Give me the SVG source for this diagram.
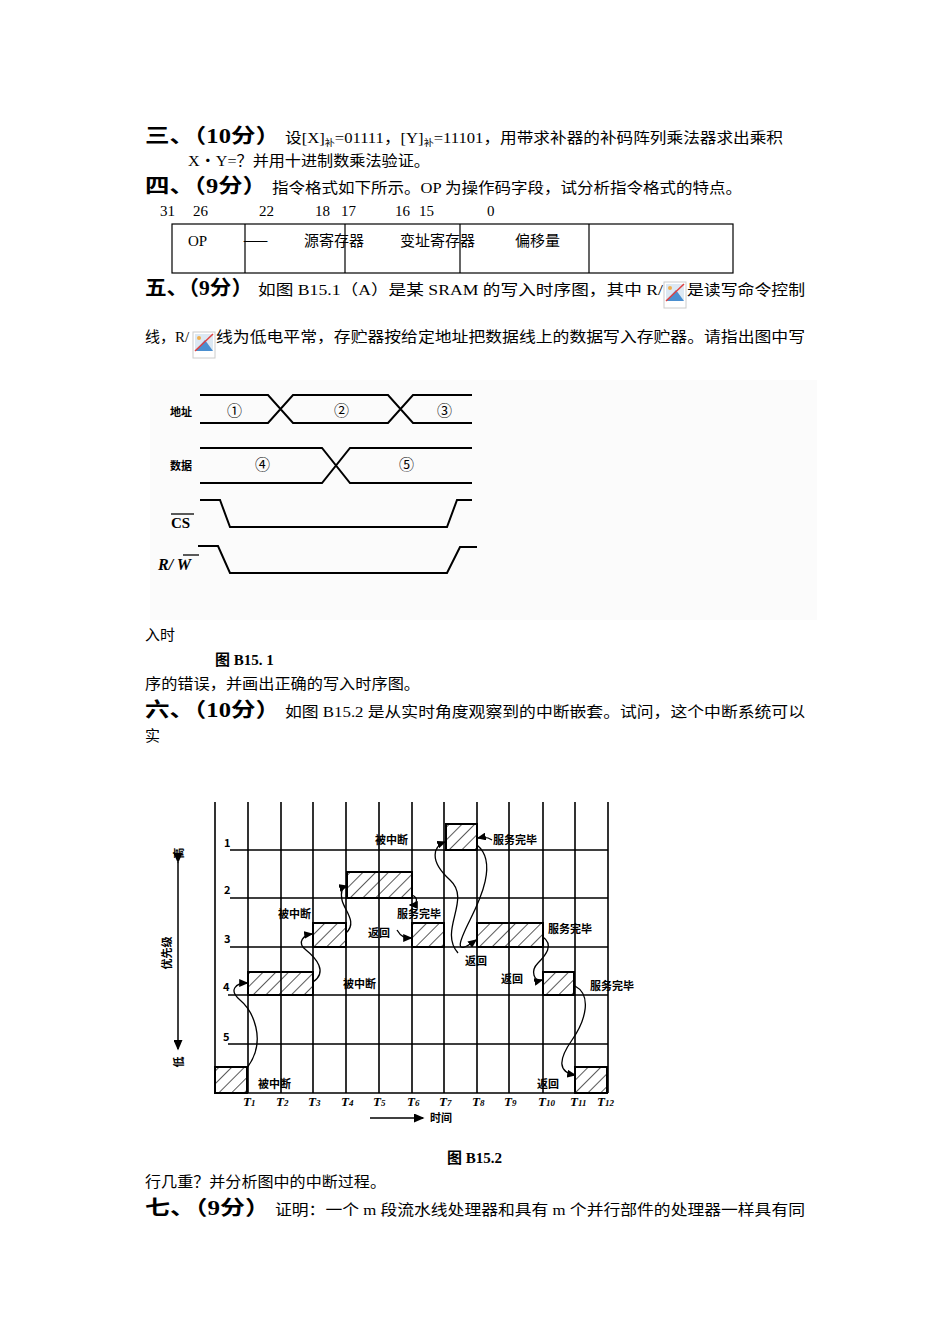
<svg xmlns="http://www.w3.org/2000/svg" width="950" height="1344" viewBox="0 0 950 1344">
<style>
.t{font-family:"Liberation Serif","Noto Sans CJK SC",serif;font-size:15px;fill:#000}
.h{font-family:"Liberation Serif","Noto Sans CJK SC",serif;font-size:20px;font-weight:bold;fill:#000}
.b{font-family:"Liberation Serif","Noto Sans CJK SC",serif;font-size:15px;font-weight:bold;fill:#000}
.s{font-family:"Noto Sans CJK SC",sans-serif;font-size:11px;font-weight:bold;fill:#000}
.tl{font-family:"Liberation Serif",serif;font-size:13px;font-weight:bold;font-style:italic;fill:#000}
.ln{stroke:#000;stroke-width:2;fill:none}
.g{stroke:#000;stroke-width:1.6;fill:none}
.c{stroke:#000;stroke-width:1.3;fill:none;marker-end:url(#ah)}
.hb{fill:url(#hatch);stroke:#000;stroke-width:2}
</style>
<defs>
<pattern id="hatch" patternUnits="userSpaceOnUse" width="9" height="9" patternTransform="rotate(45)">
<line x1="0" y1="0" x2="0" y2="9" stroke="#000" stroke-width="1.3"/>
</pattern>
<marker id="ah" markerWidth="7" markerHeight="6" refX="6" refY="3" orient="auto"><path d="M0,0 L7,3 L0,6 Z" fill="#000"/></marker>
<g id="icon"><rect x="0" y="0" width="22" height="26" fill="#fff" stroke="#ccc"/><rect x="2" y="2" width="18" height="17" fill="#dce8f3"/><path d="M2,19 L12,8 L20,19 Z" fill="#4a8fd0"/><circle cx="6" cy="6" r="2" fill="#f0b050"/><line x1="2" y1="19" x2="20" y2="2" stroke="#e04040" stroke-width="1.5"/></g>
</defs>
<rect width="950" height="1344" fill="#fff"/>

<g id="text">
<text class="h" x="145" y="143" textLength="135" lengthAdjust="spacingAndGlyphs">三、（10分）</text>
<text class="t" x="285" y="143" textLength="498" lengthAdjust="spacingAndGlyphs">设[X]<tspan font-size="9" dy="3">补</tspan><tspan dy="-3">=01111，[Y]</tspan><tspan font-size="9" dy="3">补</tspan><tspan dy="-3">=11101，用带求补器的补码阵列乘法器求出乘积</tspan></text>
<text class="t" x="188" y="166" textLength="242" lengthAdjust="spacingAndGlyphs">X・Y=？并用十进制数乘法验证。</text>
<text class="h" x="145" y="193" textLength="122" lengthAdjust="spacingAndGlyphs">四、（9分）</text>
<text class="t" x="272" y="193" textLength="470" lengthAdjust="spacingAndGlyphs">指令格式如下所示。OP 为操作码字段，试分析指令格式的特点。</text>
<text class="t" x="160" y="216">31</text><text class="t" x="193" y="216">26</text><text class="t" x="259" y="216">22</text><text class="t" x="315" y="216">18</text><text class="t" x="341" y="216">17</text><text class="t" x="395" y="216">16</text><text class="t" x="419" y="216">15</text><text class="t" x="487" y="216">0</text>
<text class="h" x="145" y="295" textLength="108" lengthAdjust="spacingAndGlyphs">五、（9分）</text>
<text class="t" x="258" y="295" textLength="405" lengthAdjust="spacingAndGlyphs">如图 B15.1（A）是某 SRAM 的写入时序图，其中 R/</text>
<use href="#icon" x="664" y="282"/>
<text class="t" x="687" y="295" textLength="118" lengthAdjust="spacingAndGlyphs">是读写命令控制</text>
<text class="t" x="145" y="342">线，R/</text>
<use href="#icon" x="193" y="332"/>
<text class="t" x="216" y="342" textLength="589" lengthAdjust="spacingAndGlyphs">线为低电平常，存贮器按给定地址把数据线上的数据写入存贮器。请指出图中写</text>
<text class="t" x="145" y="640">入时</text>
<text class="b" x="215" y="665">图 B15. 1</text>
<text class="t" x="145" y="689" textLength="275" lengthAdjust="spacingAndGlyphs">序的错误，并画出正确的写入时序图。</text>
<text class="h" x="145" y="717" textLength="135" lengthAdjust="spacingAndGlyphs">六、（10分）</text>
<text class="t" x="285" y="717" textLength="520" lengthAdjust="spacingAndGlyphs">如图 B15.2 是从实时角度观察到的中断嵌套。试问，这个中断系统可以</text>
<text class="t" x="145" y="741">实</text>
<text class="b" x="447" y="1163">图 B15.2</text>
<text class="t" x="145" y="1187" textLength="241" lengthAdjust="spacingAndGlyphs">行几重？并分析图中的中断过程。</text>
<text class="h" x="145" y="1215" textLength="125" lengthAdjust="spacingAndGlyphs">七、（9分）</text>
<text class="t" x="275" y="1215" textLength="530" lengthAdjust="spacingAndGlyphs">证明：一个 m 段流水线处理器和具有 m 个并行部件的处理器一样具有同</text>
</g>

<g id="format-table">
<rect x="172" y="224" width="561" height="49" fill="none" stroke="#000" stroke-width="1.2"/>
<path d="M245,224V273M345,224V273M460,224V273M589,224V273" stroke="#000" stroke-width="1.2"/>
<text class="t" x="188" y="246" font-size="17">OP</text>
<text class="t" x="243" y="246" font-size="17" style="font-family:'Noto Sans CJK SC',sans-serif">——</text>
<text class="t" x="304" y="246" font-size="17">源寄存器</text>
<text class="t" x="400" y="246" font-size="17">变址寄存器</text>
<text class="t" x="515" y="246" font-size="17">偏移量</text>
</g>

<g id="timing-fig">
<rect x="150" y="380" width="667" height="240" fill="#fbfbfb"/>
<text class="s" x="170" y="416" font-size="13">地址</text>
<path class="ln" d="M200,395H268L293,423H388L413,395H472M200,423H268L293,395H388L413,423H472"/>
<text class="t" x="227" y="416">①</text><text class="t" x="334" y="416">②</text><text class="t" x="437" y="416">③</text>
<text class="s" x="170" y="470" font-size="13">数据</text>
<path class="ln" d="M200,448H322L350,483H472M200,483H322L350,448H472"/>
<text class="t" x="255" y="470">④</text><text class="t" x="399" y="470">⑤</text>
<text x="171" y="528" style="font-family:'Liberation Serif',serif;font-size:15px;font-weight:bold">CS</text>
<line x1="171" y1="514" x2="194" y2="514" stroke="#000" stroke-width="1.3"/>
<text x="158" y="570" style="font-family:'Liberation Serif',serif;font-size:16px;font-weight:bold;font-style:italic">R/ W</text>
<line x1="183" y1="555" x2="199" y2="555" stroke="#000" stroke-width="1.3"/>
<path class="ln" d="M200,500H220L230,527H447L457,500H472"/>
<path class="ln" d="M198,546H218L230,573H447L460,547H477"/>
</g>

<g id="interrupt-fig">
<rect class="hb" x="215" y="1067" width="32" height="26"/>
<rect class="hb" x="248" y="972" width="65" height="23"/>
<rect class="hb" x="313" y="923" width="33" height="24"/>
<rect class="hb" x="347" y="872" width="65" height="26"/>
<rect class="hb" x="412" y="923" width="32" height="24"/>
<rect class="hb" x="446" y="824" width="31" height="26"/>
<rect class="hb" x="477" y="923" width="66" height="24"/>
<rect class="hb" x="543" y="972" width="31" height="23"/>
<rect class="hb" x="575" y="1067" width="32" height="26"/>
<path class="g" d="M215,802V1093H608M248,802V1093M281,802V1093M313,802V1093M346,802V1093M379,802V1093M412,802V1093M444,802V1093M477,802V1093M509,802V1093M543,802V1093M575,802V1093M608,802V1093"/>
<path class="g" d="M230,850H608M230,898H608M230,947H608M228,995H608M228,1044H608"/>
<text class="s" x="224" y="847">1</text><text class="s" x="224" y="894">2</text><text class="s" x="224" y="943">3</text><text class="s" x="223" y="991">4</text><text class="s" x="223" y="1041">5</text>
<line x1="178" y1="862" x2="178" y2="1049" stroke="#000" stroke-width="1.5" marker-end="url(#ah)" marker-start="url(#ah)"/>
<text class="s" transform="translate(183,853) rotate(-90)" text-anchor="middle">高</text>
<text class="s" transform="translate(171,953) rotate(-90)" text-anchor="middle">优先级</text>
<text class="s" transform="translate(183,1062) rotate(-90)" text-anchor="middle">低</text>
<g class="tl"><text x="243" y="1106">T<tspan font-size="9">1</tspan></text><text x="276" y="1106">T<tspan font-size="9">2</tspan></text><text x="308" y="1106">T<tspan font-size="9">3</tspan></text><text x="341" y="1106">T<tspan font-size="9">4</tspan></text><text x="373" y="1106">T<tspan font-size="9">5</tspan></text><text x="407" y="1106">T<tspan font-size="9">6</tspan></text><text x="439" y="1106">T<tspan font-size="9">7</tspan></text><text x="472" y="1106">T<tspan font-size="9">8</tspan></text><text x="504" y="1106">T<tspan font-size="9">9</tspan></text><text x="538" y="1106">T<tspan font-size="9">10</tspan></text><text x="570" y="1106">T<tspan font-size="9">11</tspan></text><text x="597" y="1106">T<tspan font-size="9">12</tspan></text></g>
<line x1="370" y1="1118" x2="423" y2="1118" stroke="#000" stroke-width="1.5" marker-end="url(#ah)"/>
<text class="s" x="430" y="1122">时间</text>
<g class="s">
<text x="278" y="918">被中断</text><text x="375" y="844">被中断</text><text x="493" y="844">服务完毕</text>
<text x="397" y="918">服务完毕</text><text x="368" y="937">返回</text><text x="548" y="933">服务完毕</text>
<text x="465" y="965">返回</text><text x="343" y="988">被中断</text><text x="501" y="983">返回</text>
<text x="590" y="990">服务完毕</text><text x="258" y="1088">被中断</text><text x="537" y="1088">返回</text>
</g>
</g>
<g id="connectors">
<path class="c" d="M247,1068 C268,1040 252,1010 240,1000 S236,983 247,983"/>
<path class="c" d="M313,982 C328,972 316,958 306,950 S304,935 312,934"/>
<path class="c" d="M346,933 C358,922 344,910 342,900 S343,887 347,886"/>
<path class="c" d="M412,895 C420,899 416,905 410,905"/>
<path class="c" d="M397,930 C401,937 405,938 411,938"/>
<path class="c" d="M458,953 C438,930 472,900 450,880 S434,846 445,842"/>
<path class="c" d="M477,845 C498,862 480,900 470,920 S452,958 476,940"/>
<path class="c" d="M543,937 C554,945 546,955 538,963 S534,982 542,980"/>
<path class="c" d="M575,986 C592,995 586,1020 572,1040 S558,1072 575,1075"/>
<path class="c" d="M492,840 C488,837 483,837 478,838"/>
</g>
</svg>
